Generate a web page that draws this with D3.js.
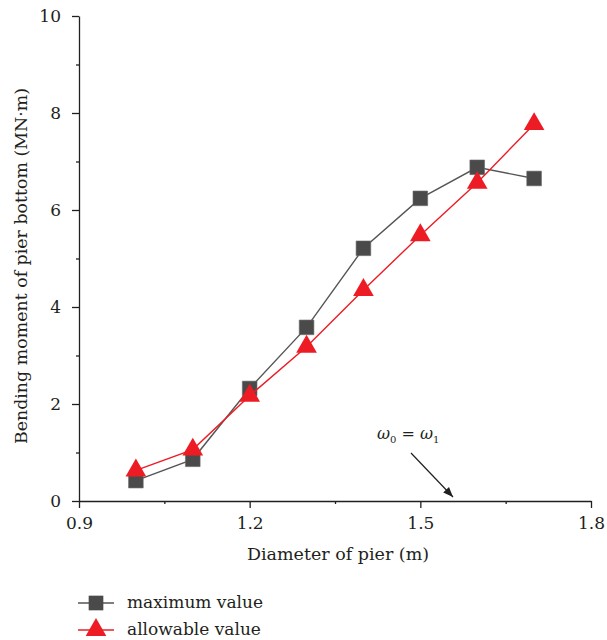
<!DOCTYPE html>
<html>
<head>
<meta charset="utf-8">
<script src="https://cdn.jsdelivr.net/npm/d3@7"></script>
<style>
  body { margin: 0; background: #fff; }
  text { font-family: "DejaVu Serif", "Liberation Serif", serif; fill: #231f20; }
</style>
</head>
<body>
<div id="chart"></div>
<script>
// chart data
var diameters = [1.0, 1.1, 1.2, 1.3, 1.4, 1.5, 1.6, 1.7];
var maximumValue = [0.42, 0.86, 2.32, 3.58, 5.21, 6.24, 6.88, 6.65];
var allowableValue = [0.63, 1.06, 2.17, 3.18, 4.35, 5.48, 6.56, 7.77];
var xTicks = [0.9, 1.2, 1.5, 1.8];
var yTicks = [0, 2, 4, 6, 8, 10];
var seriesNames = ["maximum value", "allowable value"];

var width = 607, height = 640;

var svg = d3.select("#chart").append("svg")
  .attr("width", width)
  .attr("height", height);

var x = d3.scaleLinear().domain([0.9, 1.8]).range([79, 591]);
var y = d3.scaleLinear().domain([0, 10]).range([501, 16]);

var axisColor = "#231f20";

// x axis: major + minor ticks
svg.append("g")
  .attr("transform", "translate(0," + y(0) + ")")
  .call(d3.axisBottom(x).tickValues(xTicks).tickFormat(d3.format(".1f")).tickSize(7).tickPadding(9).tickSizeOuter(0));
svg.append("g")
  .attr("transform", "translate(0," + y(0) + ")")
  .call(d3.axisBottom(x).tickValues([1.05, 1.35, 1.65]).tickFormat("").tickSize(3).tickSizeOuter(0))
  .select(".domain").remove();

// y axis
svg.append("g")
  .attr("transform", "translate(" + x(0.9) + ",0)")
  .call(d3.axisLeft(y).tickValues(yTicks).tickSize(7).tickPadding(11).tickSizeOuter(0));
svg.append("g")
  .attr("transform", "translate(" + x(0.9) + ",0)")
  .call(d3.axisLeft(y).tickValues([1, 3, 5, 7, 9]).tickFormat("").tickSize(3).tickSizeOuter(0))
  .select(".domain").remove();

svg.selectAll(".domain, .tick line")
  .attr("stroke", axisColor)
  .attr("stroke-width", 1.3);
svg.selectAll(".tick text")
  .attr("font-size", 17)
  .attr("fill", axisColor);

// axis titles
svg.append("text")
  .attr("x", 338)
  .attr("y", 560)
  .attr("text-anchor", "middle")
  .attr("font-size", 17.5)
  .text("Diameter of pier (m)");

svg.append("text")
  .attr("transform", "translate(27,266) rotate(-90)")
  .attr("text-anchor", "middle")
  .attr("font-size", 17.4)
  .text("Bending moment of pier bottom (MN·m)");

var grayColor = "#4a4a4a";
var redColor = "#ed1c24";

var squareSym = d3.symbol().type(d3.symbolSquare).size(215);
var triangleSym = d3.symbol().type(d3.symbolTriangle).size(185);

var line = d3.line()
  .x(function (d) { return x(d[0]); })
  .y(function (d) { return y(d[1]); });

var maxData = d3.zip(diameters, maximumValue);
var allowData = d3.zip(diameters, allowableValue);

// maximum value series
svg.append("path")
  .datum(maxData)
  .attr("d", line)
  .attr("fill", "none")
  .attr("stroke", "#555555")
  .attr("stroke-width", 1.4);
svg.append("g")
  .selectAll("path")
  .data(maxData)
  .enter().append("path")
  .attr("d", squareSym)
  .attr("transform", function (d) { return "translate(" + x(d[0]) + "," + y(d[1]) + ")"; })
  .attr("fill", grayColor)
  .attr("stroke", "#6a6a6a")
  .attr("stroke-width", 0.6);

// allowable value series
svg.append("path")
  .datum(allowData)
  .attr("d", line)
  .attr("fill", "none")
  .attr("stroke", redColor)
  .attr("stroke-width", 1.4);
svg.append("g")
  .selectAll("path")
  .data(allowData)
  .enter().append("path")
  .attr("d", triangleSym)
  .attr("transform", function (d) { return "translate(" + x(d[0]) + "," + y(d[1]) + ")"; })
  .attr("fill", redColor);

// annotation
var ann = svg.append("text")
  .attr("x", 377)
  .attr("y", 439)
  .attr("font-size", 16)
  .attr("font-style", "italic");
ann.append("tspan").text("ω");
ann.append("tspan").attr("font-size", 10).attr("font-style", "normal").attr("dy", 4).text("0");
ann.append("tspan").attr("dy", -4).attr("font-style", "normal").text(" = ");
ann.append("tspan").text("ω");
ann.append("tspan").attr("font-size", 10).attr("font-style", "normal").attr("dy", 4).text("1");

svg.append("defs").append("marker")
  .attr("id", "arrow")
  .attr("viewBox", "0 0 10 10")
  .attr("refX", 10)
  .attr("refY", 5)
  .attr("markerWidth", 10)
  .attr("markerHeight", 10)
  .attr("markerUnits", "userSpaceOnUse")
  .attr("orient", "auto")
  .append("path")
  .attr("d", "M0,1 L10,5 L0,9 Z")
  .attr("fill", axisColor);

svg.append("line")
  .attr("x1", 411).attr("y1", 453)
  .attr("x2", 453).attr("y2", 497)
  .attr("stroke", axisColor)
  .attr("stroke-width", 1.2)
  .attr("marker-end", "url(#arrow)");

// legend
var legend = svg.append("g");
var legendRows = [
  { name: seriesNames[0], color: "#555555", fill: grayColor, sym: squareSym, y: 603 },
  { name: seriesNames[1], color: redColor, fill: redColor, sym: triangleSym, y: 630 }
];
legendRows.forEach(function (r) {
  legend.append("line")
    .attr("x1", 78).attr("x2", 114)
    .attr("y1", r.y).attr("y2", r.y)
    .attr("stroke", r.color)
    .attr("stroke-width", 1.4);
  legend.append("path")
    .attr("d", r.sym)
    .attr("transform", "translate(96," + r.y + ")")
    .attr("fill", r.fill);
  legend.append("text")
    .attr("x", 127)
    .attr("y", r.y + 5)
    .attr("font-size", 17)
    .text(r.name);
});
</script>
</body>
</html>
